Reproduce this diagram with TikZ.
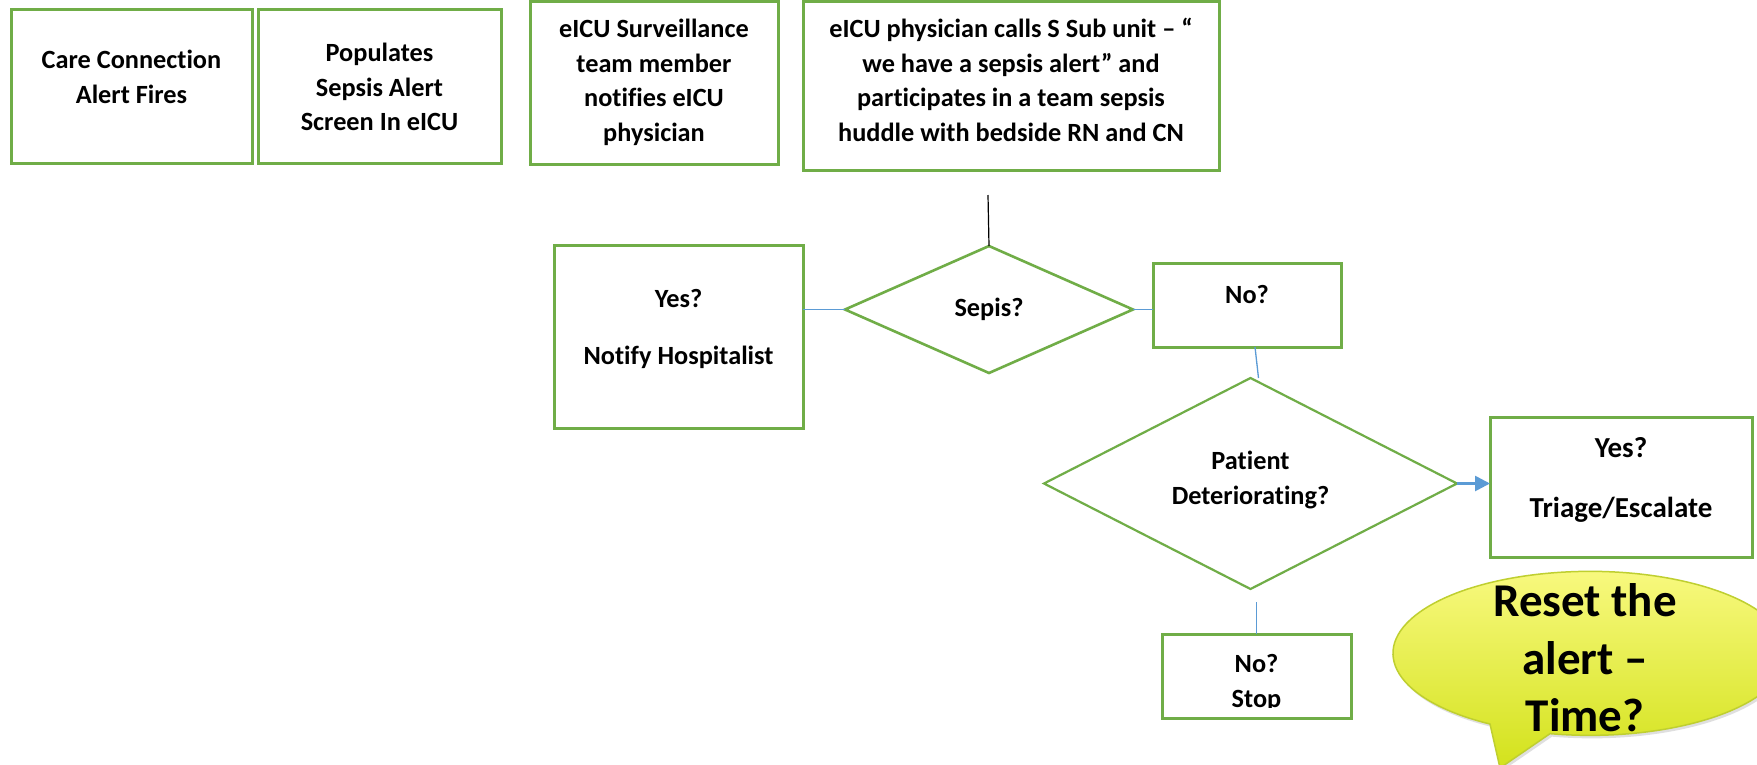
\documentclass[tikz,border=0pt]{standalone}
\usepackage{fontspec}
\setmainfont{Carlito}[Ligatures={NoCommon,TeX}]
\usetikzlibrary{shapes.geometric,arrows.meta,shadows}

\definecolor{boxgreen}{HTML}{70AD47}
\definecolor{linkblue}{HTML}{5B9BD5}
\definecolor{calloutTop}{HTML}{FAFA84}
\definecolor{calloutBot}{HTML}{D3E21C}
\definecolor{calloutEdge}{HTML}{BFCF30}

\tikzset{
  flowbox/.style={draw=boxgreen, line width=3pt, rectangle, inner sep=0pt, outer sep=0pt},
  decision/.style={draw=boxgreen, line width=2.6pt, diamond, inner sep=0pt, outer sep=0pt},
  lbl/.style={font=\fontsize{26.3}{34.5}\selectfont\bfseries, align=center, inner sep=0pt},
  midlbl/.style={font=\fontsize{29}{35.4}\selectfont\bfseries, align=center, inner sep=0pt},
  biglbl/.style={font=\fontsize{47}{57.5}\selectfont\bfseries, align=center, inner sep=0pt},
  link/.style={draw=linkblue, line width=1.3pt},
}

\begin{document}
\begin{tikzpicture}[x=1pt,y=-1pt]
\clip (0,0) rectangle (1757,764);
\fill[white] (0,0) rectangle (1757,764);

% top row of process boxes
\node[flowbox, minimum width=241pt, minimum height=154pt] (alert) at (131.5,86) {};
\node[lbl] (alertT) at (131.5,77) {Care Connection\\Alert Fires};

\node[flowbox, minimum width=243pt, minimum height=154pt] (screen) at (379.5,86) {};
\node[lbl] (screenT) at (379.5,87) {Populates\\Sepsis Alert\\Screen In eICU};

\node[flowbox, minimum width=248pt, minimum height=162.5pt] (notify) at (654,82.75) {};
\node[lbl] (notifyT) at (654,82.5) {eICU Surveillance\\team member\\notifies eICU\\physician};

\node[flowbox, minimum width=416pt, minimum height=168.5pt] (huddle) at (1011,85.75) {};
\node[lbl] (huddleT) at (1011,80) {eICU physician calls S Sub unit – “\\we have a sepsis alert” and\\participates in a team sepsis\\huddle with bedside RN and CN};

% sepsis decision and its branches
\node[decision, minimum width=288pt, minimum height=127pt] (sepsis) at (989,309.5) {};
\node[lbl] (sepsisT) at (989,309) {Sepis?};

\node[flowbox, minimum width=249pt, minimum height=183pt] (yes) at (678.5,336.5) {};
\node[lbl] (yesT) at (678.5,329) {Yes?\\[23pt]Notify Hospitalist};

\node[flowbox, minimum width=188pt, minimum height=84pt] (nobox) at (1247,305) {};
\node[lbl] (noboxT) at (1247,295) {No?};

% deterioration decision and its branches
\node[decision, line width=2.2pt, minimum width=413pt, minimum height=211pt] (det) at (1250.5,483.5) {};
\node[lbl] (detT) at (1250.5,480) {Patient\\Deteriorating?};

\node[flowbox, minimum width=262pt, minimum height=140pt] (triage) at (1621,487) {};
\node[midlbl] (triageT) at (1621,479.5) {Yes?\\[24.6pt]Triage/Escalate};

\node[flowbox, minimum width=189pt, minimum height=84pt] (stop) at (1256.5,676) {};
\begin{scope}
  \clip (1164,636) rectangle (1349,707);
  \node[lbl] (stopT) at (1256.5,683) {No?\\Stop};
\end{scope}

% connectors
\coordinate (huddleTail) at (988,195);
\draw[black, line width=1.2pt] (huddleTail) -- (sepsis.north);
\draw[link] (sepsis.west) -- (sepsis.west -| yes.east);
\draw[link] (sepsis.east) -- (sepsis.east -| nobox.west);
\draw[link] ([xshift=8pt]nobox.south) -- ([xshift=8pt]det.north);
\draw[link] ([yshift=-13pt]det.south -| stop.north) -- (stop.north);
\draw[link, line width=2.6pt, -{Triangle[length=15pt,width=15pt]}] (det.east) -- (det.east -| triage.west);

% speech bubble
\path[draw=calloutEdge, line width=1.5pt, top color=calloutTop, bottom color=calloutBot,
      drop shadow={opacity=0.25, shadow xshift=2pt, shadow yshift=-3pt}]
  (1490,724) arc[start angle=120.5, end angle=461.7, x radius=197, y radius=82]
  -- (1500,768) -- cycle;
\node[biglbl] (resetT) at (1585,658) {Reset the\\alert –\\Time?};
\end{tikzpicture}
\end{document}
